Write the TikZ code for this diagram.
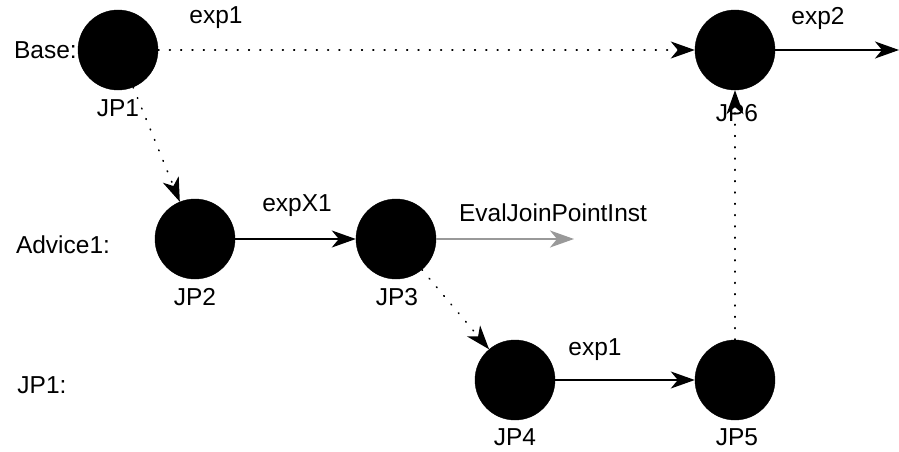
\documentclass[tikz,border=0pt]{standalone}
\usepackage{fontspec}
\setmainfont{Liberation Sans}
\usetikzlibrary{arrows.meta}
\tikzset{
	jpstyle/.style={circle,draw=black,fill=black,minimum size=80pt,inner sep=0pt},
	labelstyle/.style={inner sep=0pt},
	flowstyle/.style={line width=1.6pt,-{Stealth[length=24pt,width=17pt,inset=7pt]}},
	dotstyle/.style={flowstyle,line cap=round,dash pattern=on 0.8pt off 10.5pt},
	evalstyle/.style={flowstyle,draw=black!40,-{Stealth[length=24pt,width=17pt,inset=7pt,fill=black!40]}}
}
\begin{document}
\begin{tikzpicture}[x=1pt,y=-1pt]
		\fontsize{24.5}{28}\selectfont
		\useasboundingbox (0,0) rectangle (899,452);
		\node[jpstyle] (jp1) at (118,50) {};
		\node[jpstyle] (jp6) at (735,50) {};
		\node[jpstyle] (jp2) at (195,239) {};
		\node[jpstyle] (jp3) at (396,239) {};
		\node[jpstyle] (jp4) at (515,380) {};
		\node[jpstyle] (jp5) at (735,380) {};
		\coordinate (out6) at (899,50);
		\coordinate (out3) at (574,239);
		\node[labelstyle,anchor=east] (base) at (77,50) {Base:};
		\node[labelstyle] (advice) at (63,245) {Advice1:};
		\node[labelstyle] (jpone) at (42,385) {JP1:};
		\node[labelstyle] (l1) at (118,108) {JP1};
		\node[labelstyle] (l6) at (737,113) {JP6};
		\node[labelstyle] (l2) at (195,297) {JP2};
		\node[labelstyle] (l3) at (397,297) {JP3};
		\node[labelstyle] (l4) at (515,437) {JP4};
		\node[labelstyle] (l5) at (737,437) {JP5};
		\node[labelstyle] (e1) at (216,18) {exp1};
		\node[labelstyle] (e2) at (818,18) {exp2};
		\node[labelstyle] (ex1) at (297,206) {expX1};
		\node[labelstyle] (ev) at (553,213) {EvalJoinPointInst};
		\node[labelstyle] (e3) at (595,350) {exp1};
		\draw[dotstyle] (jp1)--(jp6);
		\draw[flowstyle] (jp6)--(out6);
		\draw[dotstyle] (jp1)--(jp2);
		\draw[flowstyle] (jp2)--(jp3);
		\draw[evalstyle] (jp3)--(out3);
		\draw[dotstyle] (jp3)--(jp4);
		\draw[flowstyle] (jp4)--(jp5);
		\draw[dotstyle] (jp5)--(jp6);
\end{tikzpicture}
\end{document}
